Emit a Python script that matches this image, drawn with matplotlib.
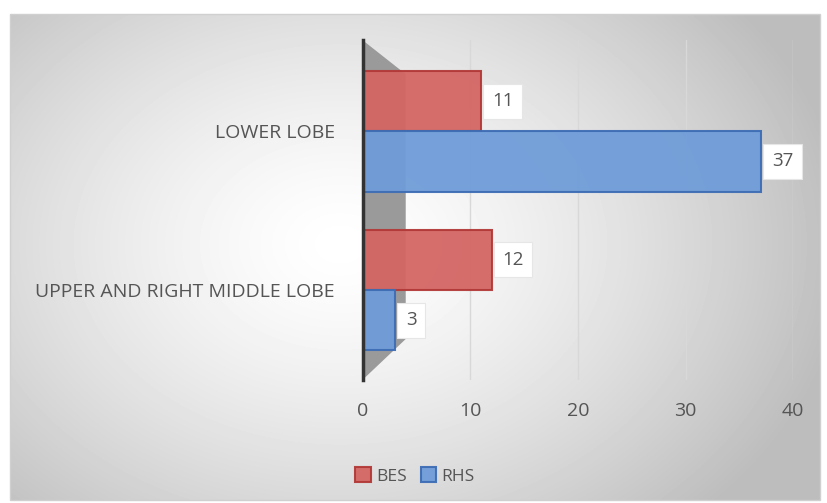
import matplotlib
matplotlib.use('Agg')
import matplotlib.pyplot as plt
import numpy as np
from matplotlib.patches import Polygon, Rectangle

# data
categories = ['UPPER AND RIGHT MIDDLE LOBE', 'LOWER LOBE']
bes = [12, 11]
rhs = [3, 37]
series_names = ['BES', 'RHS']
xticks = [0, 10, 20, 30, 40]

plt.rcParams['font.family'] = ['Open Sans', 'DejaVu Sans']
text_color = '#555555'
red_face, red_edge = '#D46664', '#B23A38'
blue_face, blue_edge = '#6F9CD8', '#3E6DB5'

fig = plt.figure(figsize=(8.28, 5.03), dpi=100)

# background panel with soft radial gradient
bg = fig.add_axes([0, 0, 1, 1], zorder=-10)
bg.set_xlim(0, 828)
bg.set_ylim(503, 0)
bg.axis('off')
yy, xx = np.mgrid[0:486, 0:810]
r = np.sqrt(((xx - 330) / 480.0) ** 2 + ((yy - 230) / 360.0) ** 2)
shade = np.clip(1.0 - 0.24 * r ** 1.4, 0.74, 1.0)
bg.imshow(shade, cmap='gray', vmin=0, vmax=1, extent=(10, 820, 500, 14),
          aspect='auto', interpolation='bilinear')
bg.add_patch(Rectangle((10, 14), 810, 486, fill=False, edgecolor='#d0d0d0', lw=1))

ax = fig.add_axes([0.438, 0.245, 0.52, 0.675])
ax.patch.set_alpha(0)

y = np.arange(len(categories))
h = 0.38
ax.set_xlim(0, 40)
ax.set_ylim(-0.566, 1.574)

# grey side wall
wall = Polygon([(0, 1.0), (0.1, 0.9), (0.1, 0.12), (0.0, 0.0)], closed=True,
               transform=ax.transAxes, facecolor='#9a9a9a', edgecolor='none', zorder=1)
ax.add_patch(wall)

for t in xticks[1:]:
    ax.axvline(t, color='#d8d8d8', lw=1, zorder=0)

ax.barh(y + h / 2, bes, height=h, color=red_face, edgecolor=red_edge, lw=1.5,
        alpha=0.95, label=series_names[0], zorder=3)
ax.barh(y - h / 2, rhs, height=h, color=blue_face, edgecolor=blue_edge, lw=1.5,
        alpha=0.95, label=series_names[1], zorder=3)

box = dict(boxstyle='square,pad=0.45', facecolor='white', edgecolor='#e6e6e6', lw=0.8)
for i in range(len(categories)):
    ax.text(bes[i] + 1.0, y[i] + h / 2, str(bes[i]), va='center', ha='left',
            fontsize=13.5, color=text_color, bbox=box, zorder=5)
    ax.text(rhs[i] + 1.0, y[i] - h / 2, str(rhs[i]), va='center', ha='left',
            fontsize=13.5, color=text_color, bbox=box, zorder=5)

ax.set_xticks(xticks)
ax.set_yticks(y)
ax.set_yticklabels(categories)
ax.tick_params(axis='both', length=0, labelsize=14, colors=text_color)
ax.tick_params(axis='y', pad=20)
ax.tick_params(axis='x', pad=16)
for s in ['top', 'right', 'bottom']:
    ax.spines[s].set_visible(False)
ax.spines['left'].set_color('#333333')
ax.spines['left'].set_linewidth(2.5)
ax.spines['left'].set_zorder(4)

handles, labels = ax.get_legend_handles_labels()
fig.legend(handles, labels, loc='center', bbox_to_anchor=(415 / 828, 1 - 476 / 503),
           ncol=2, frameon=False, fontsize=12.5, labelcolor=text_color,
           handlelength=0.9, handleheight=0.9, handletextpad=0.3, columnspacing=0.8)

fig.savefig('out.png', dpi=100)
